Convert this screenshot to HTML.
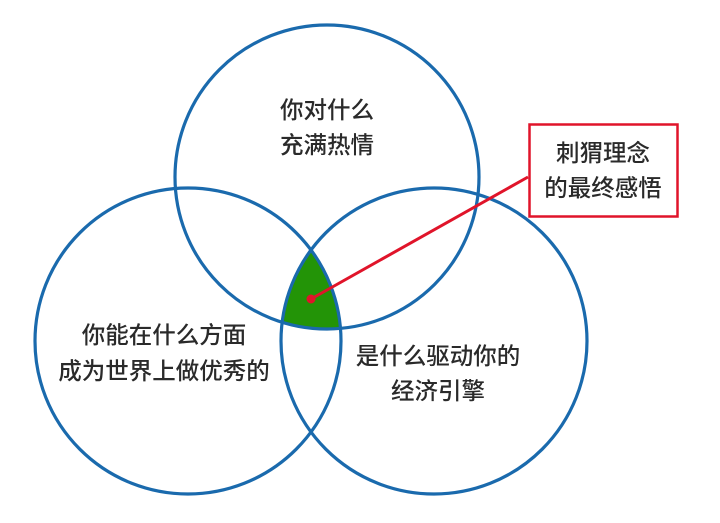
<!DOCTYPE html>
<html><head><meta charset="utf-8"><style>
html,body{margin:0;padding:0;background:#fff;}
svg{display:block;}
text{font-family:"Liberation Sans","Noto Sans CJK SC",sans-serif;font-size:23.5px;fill:#2a2a2a;text-anchor:middle;font-weight:500;}
</style></head><body>
<svg width="720" height="523" viewBox="0 0 720 523" xmlns="http://www.w3.org/2000/svg">
<defs>
<clipPath id="cl"><circle cx="188" cy="341" r="153"/></clipPath>
<clipPath id="cr"><circle cx="434" cy="341" r="153"/></clipPath>
</defs>
<g clip-path="url(#cl)"><g clip-path="url(#cr)"><circle cx="327" cy="177" r="152" fill="#239407"/></g></g>
<g fill="none" stroke="#1a6aad" stroke-width="3.2">
<circle cx="327" cy="177" r="152"/>
<circle cx="188" cy="341" r="153"/>
<circle cx="434" cy="341" r="153"/>
</g>
<line x1="311" y1="299" x2="528" y2="177" stroke="#e0142a" stroke-width="3"/>
<circle cx="311" cy="299" r="4.5" fill="#e0142a"/>
<rect x="529.5" y="124.5" width="148" height="92" fill="#fff" stroke="#e0142a" stroke-width="2.5"/>
<text x="327" y="118">你对什么</text>
<text x="327" y="153">充满热情</text>
<text x="164" y="343">你能在什么方面</text>
<text x="164" y="379">成为世界上做优秀的</text>
<text x="438" y="364">是什么驱动你的</text>
<text x="438" y="399">经济引擎</text>
<text x="603" y="161">刺猬理念</text>
<text x="603" y="196">的最终感悟</text>
</svg>
</body></html>
